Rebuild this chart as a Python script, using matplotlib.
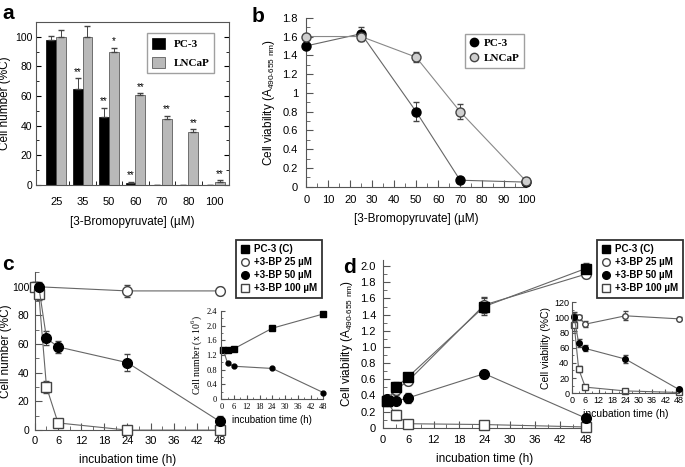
import numpy as np
import matplotlib
matplotlib.use("Agg")
import matplotlib.pyplot as plt
from matplotlib.lines import Line2D
from matplotlib.ticker import MultipleLocator

plt.rcParams['font.family'] = ['Liberation Sans', 'DejaVu Sans']
plt.rcParams['mathtext.fontset'] = 'custom'
plt.rcParams['mathtext.rm'] = 'Liberation Sans'
plt.rcParams['xtick.direction'] = 'in'
plt.rcParams['ytick.direction'] = 'in'

# panel a: cell number vs 3-BP dose
conc_labels = ['25', '35', '50', '60', '70', '80', '100']
pc3_num = [98, 65, 46, 1, 0, 0, 0]
pc3_num_err = [2.5, 7, 6, 1, 0, 0, 0]
lncap_num = [100, 100, 90, 61, 44.5, 35.5, 2]
lncap_num_err = [4.5, 7, 2.5, 1, 2, 2, 1]
pc3_stars = ['', '**', '**', '**', '', '', '']
lncap_stars = ['', '', '*', '**', '**', '**', '**']

# panel b: viability vs dose
conc_b = [0, 25, 50, 70, 100]
pc3_via = [1.5, 1.63, 0.8, 0.07, 0.05]
pc3_via_err = [0.02, 0.07, 0.1, 0.03, 0.03]
lncap_via = [1.6, 1.6, 1.38, 0.8, 0.06]
lncap_via_err = [0.02, 0.05, 0.05, 0.08, 0.03]

# panel c: cell number (%C) vs time
t25_c = [0, 24, 48]
bp25_c = [100, 97, 97]
bp25_c_err = [3, 4, 3]
t50_c = [1, 3, 6, 24, 48]
bp50_c = [100, 64, 58, 47, 6]
bp50_c_err = [3, 5, 4, 6, 4]
t100_c = [0, 1, 3, 6, 24, 48]
bp100_c = [100, 95, 30, 5, 0, 0]
bp100_c_err = [3, 4, 4, 2, 1, 1]
# inset c: absolute cell number (x10^6)
t_in_c = [1, 3, 6, 24, 48]
ctrl_in_c = [1.33, 1.33, 1.37, 1.93, 2.32]
bp50_in_c = [1.33, 0.97, 0.89, 0.83, 0.17]

# panel d: viability (A490-655) vs time
t_d = [1, 3, 6, 24, 48]
ctrl_d = [0.33, 0.5, 0.63, 1.5, 1.97]
ctrl_d_err = [0.05, 0.07, 0.05, 0.1, 0.07]
bp25_d = [0.33, 0.47, 0.58, 1.52, 1.9]
bp25_d_err = [0.05, 0.06, 0.05, 0.1, 0.05]
bp50_d = [0.35, 0.33, 0.37, 0.67, 0.12]
bp50_d_err = [0.05, 0.04, 0.06, 0.05, 0.03]
bp100_d = [0.33, 0.16, 0.05, 0.04, 0.01]
bp100_d_err = [0.05, 0.06, 0.02, 0.02, 0.01]
# inset d: viability (%C)
bp25_in_d = [102, 100, 91, 102, 98]
bp25_in_d_err = [5, 3, 4, 6, 2]
bp50_in_d = [100, 66, 59, 45, 5]
bp50_in_d_err = [5, 5, 4, 5, 2]
bp100_in_d = [90, 32, 8, 3, 1]
bp100_in_d_err = [8, 4, 2, 1, 1]

legend_labels = ['PC-3 (C)', '+3-BP 25 \u00b5M', '+3-BP 50 \u00b5M', '+3-BP 100 \u00b5M']

grey_bar = '#b9b9b9'
line_c = '#666666'

fig = plt.figure(figsize=(6.85, 4.67), dpi=100)


def spines_lb(ax):
    ax.spines['top'].set_visible(False)
    ax.spines['right'].set_visible(False)
    for s in ['left', 'bottom']:
        ax.spines[s].set_color('#555555')
        ax.spines[s].set_linewidth(0.8)
    ax.tick_params(which='both', colors='#555555', labelcolor='black')


def time_legend():
    # proxy markers, same for c and d
    hs = [Line2D([], [], ls='none', marker='s', ms=5.5, mfc='black', mec='black'),
          Line2D([], [], ls='none', marker='o', ms=5.5, mfc='white', mec='#444444'),
          Line2D([], [], ls='none', marker='o', ms=5.5, mfc='black', mec='black'),
          Line2D([], [], ls='none', marker='s', ms=5.5, mfc='white', mec='#444444')]
    return hs


# ---- a ----
ax = fig.add_axes([0.053, 0.604, 0.281, 0.349])
x = np.arange(len(conc_labels))
w = 0.37
ax.bar(x - w / 2, pc3_num, w, color='black', edgecolor='black', lw=0.5, label='PC-3')
ax.bar(x + w / 2, lncap_num, w, color=grey_bar, edgecolor='#444444', lw=0.5, label='LNCaP')
ax.errorbar(x - w / 2, pc3_num, yerr=[np.zeros(7), pc3_num_err], fmt='none',
            ecolor='#444444', elinewidth=0.7, capsize=2.5)
ax.errorbar(x + w / 2, lncap_num, yerr=[np.zeros(7), lncap_num_err], fmt='none',
            ecolor='#444444', elinewidth=0.7, capsize=2.5)
for i in range(len(x)):
    if pc3_stars[i]:
        ax.text(x[i] - w / 2, pc3_num[i] + pc3_num_err[i] + 1, pc3_stars[i],
                ha='center', va='bottom', fontsize=7)
    if lncap_stars[i]:
        ax.text(x[i] + w / 2, lncap_num[i] + lncap_num_err[i] + 1, lncap_stars[i],
                ha='center', va='bottom', fontsize=7)
ax.set_xlim(-0.75, 6.53)
ax.set_ylim(0, 110)
ax.set_xticks(x)
ax.set_xticklabels(conc_labels)
ax.set_xticks(x[:-1] + 0.5, minor=True)
ax.yaxis.set_major_locator(MultipleLocator(20))
ax.yaxis.set_minor_locator(MultipleLocator(10))
ax.tick_params(which='both', right=True, labelsize=8, pad=3)
ax.tick_params(axis='y', labelsize=7.5)
ax.tick_params(axis='x', length=0, pad=9)
ax.tick_params(axis='x', which='minor', length=3)
for s in ax.spines.values():
    s.set_color('#555555')
    s.set_linewidth(0.8)
ax.set_ylabel('Cell number (%C)', fontsize=8.5)
ax.yaxis.set_label_coords(-0.13, 0.5)
ax.set_xlabel('[3-Bromopyruvate] (\u00b5M)', fontsize=8.5, labelpad=6)
leg = ax.legend(loc='upper left', bbox_to_anchor=(0.215, 0.929), bbox_transform=fig.transFigure,
                borderaxespad=0, fancybox=False, edgecolor='#888888', handlelength=1.2,
                handleheight=1.2, labelspacing=0.7, prop={'family': 'Liberation Serif',
                                                          'weight': 'bold', 'size': 8})
leg.get_frame().set_linewidth(1.0)

# ---- b ----
ax = fig.add_axes([0.447, 0.600, 0.321, 0.362])
ax.errorbar(conc_b, pc3_via, yerr=pc3_via_err, color=line_c, lw=0.8, marker='o', ms=6.5,
            mfc='black', mec='black', ecolor='#444444', elinewidth=0.7, capsize=2.5,
            clip_on=False, zorder=3)
ax.errorbar(conc_b, lncap_via, yerr=lncap_via_err, color='#888888', lw=0.8, marker='o', ms=6.5,
            mfc='#cfcfcf', mec='#444444', ecolor='#444444', elinewidth=0.7, capsize=2.5,
            clip_on=False, zorder=3)
ax.set_xlim(0, 100)
ax.set_ylim(0, 1.8)
ax.xaxis.set_major_locator(MultipleLocator(10))
ax.xaxis.set_minor_locator(MultipleLocator(5))
ax.yaxis.set_major_locator(MultipleLocator(0.2))
ax.yaxis.set_minor_locator(MultipleLocator(0.1))
ax.yaxis.set_major_formatter(plt.FuncFormatter(lambda v, p: '%g' % round(v, 1)))
spines_lb(ax)
ax.tick_params(labelsize=8, pad=6)
ax.tick_params(which='major', length=5)
ax.tick_params(which='minor', length=3)
ax.set_ylabel(r'Cell viability (A$_\mathregular{490\text{-}655\ nm}$)', fontsize=8.5)
ax.set_xlabel('[3-Bromopyruvate] (\u00b5M)', fontsize=8.5, labelpad=6)
hb = [Line2D([], [], ls='none', marker='o', ms=6, mfc='black', mec='black'),
      Line2D([], [], ls='none', marker='o', ms=6, mfc='#cfcfcf', mec='#444444')]
leg = ax.legend(hb, ['PC-3', 'LNCaP'], loc='upper left', bbox_to_anchor=(0.679, 0.927),
                bbox_transform=fig.transFigure, borderaxespad=0, fancybox=False,
                edgecolor='#888888', handlelength=0.8, handletextpad=0.5, labelspacing=0.45,
                prop={'family': 'Liberation Serif', 'weight': 'bold', 'size': 8})
leg.get_frame().set_linewidth(1.0)

# ---- c ----
ax = fig.add_axes([0.051, 0.079, 0.270, 0.338])
kw = dict(color=line_c, lw=0.8, ms=7, ecolor='#444444', elinewidth=0.7, capsize=2.5,
          clip_on=False, zorder=3)
ax.errorbar(t25_c, bp25_c, yerr=bp25_c_err, marker='o', mfc='white', mec='#444444', **kw)
ax.errorbar(t100_c, bp100_c, yerr=bp100_c_err, marker='s', mfc='white', mec='#444444', **kw)
ax.errorbar(t50_c, bp50_c, yerr=bp50_c_err, marker='o', mfc='black', mec='black', **kw)
ax.set_xlim(0, 48)
ax.set_ylim(0, 110)
ax.xaxis.set_major_locator(MultipleLocator(6))
ax.xaxis.set_minor_locator(MultipleLocator(3))
ax.yaxis.set_major_locator(MultipleLocator(20))
ax.yaxis.set_minor_locator(MultipleLocator(10))
spines_lb(ax)
ax.tick_params(labelsize=8, pad=4)
ax.tick_params(axis='y', labelsize=7.5)
ax.tick_params(which='major', length=5)
ax.tick_params(which='minor', length=3)
ax.set_ylabel('Cell number (%C)', fontsize=8.5)
ax.yaxis.set_label_coords(-0.122, 0.5)
ax.set_xlabel('incubation time (h)', fontsize=8.5, labelpad=6)
leg = ax.legend(time_legend(), legend_labels, loc='upper left',
                bbox_to_anchor=(0.345, 0.486), bbox_transform=fig.transFigure,
                borderaxespad=0, fancybox=False, edgecolor='black', handlelength=0.8,
                handletextpad=0.6, labelspacing=0.3, borderpad=0.45,
                prop={'weight': 'bold', 'size': 7})
leg.get_frame().set_linewidth(1.3)

# inset c
ax = fig.add_axes([0.323, 0.146, 0.149, 0.188])
ax.plot(t_in_c, ctrl_in_c, color=line_c, lw=0.8, marker='s', ms=4, mfc='black', mec='black',
        clip_on=False)
ax.plot(t_in_c, bp50_in_c, color=line_c, lw=0.8, marker='o', ms=3.5, mfc='black', mec='black',
        clip_on=False)
ax.set_xlim(0, 48)
ax.set_ylim(0, 2.4)
ax.xaxis.set_major_locator(MultipleLocator(6))
ax.xaxis.set_minor_locator(MultipleLocator(3))
ax.yaxis.set_major_locator(MultipleLocator(0.4))
ax.yaxis.set_minor_locator(MultipleLocator(0.2))
ax.yaxis.set_major_formatter(plt.FuncFormatter(lambda v, p: '0' if v == 0 else '%.1f' % v))
spines_lb(ax)
ax.tick_params(labelsize=6, pad=3)
ax.tick_params(which='major', length=3)
ax.tick_params(which='minor', length=1.5)
for t in ax.get_xticklabels() + ax.get_yticklabels():
    t.set_family('Liberation Serif')
ax.set_ylabel(r'Cell number (x 10$^\mathregular{6}$)', fontsize=7, family='Liberation Serif',
              labelpad=2)
ax.set_xlabel('incubation time (h)', fontsize=7, labelpad=3)

# ---- d ----
ax = fig.add_axes([0.559, 0.084, 0.296, 0.360])
ax.errorbar(t_d, bp100_d, yerr=bp100_d_err, marker='s', mfc='white', mec='#444444', **kw)
ax.errorbar(t_d, bp50_d, yerr=bp50_d_err, marker='o', mfc='black', mec='black', **kw)
ax.errorbar(t_d, bp25_d, yerr=bp25_d_err, marker='o', mfc='white', mec='#444444', **kw)
ax.errorbar(t_d, ctrl_d, yerr=ctrl_d_err, marker='s', mfc='black', mec='black', **kw)
ax.set_xlim(0, 48)
ax.set_ylim(0, 2.08)
ax.xaxis.set_major_locator(MultipleLocator(6))
ax.xaxis.set_minor_locator(MultipleLocator(3))
ax.yaxis.set_major_locator(MultipleLocator(0.2))
ax.yaxis.set_minor_locator(MultipleLocator(0.1))
ax.yaxis.set_major_formatter(plt.FuncFormatter(lambda v, p: '0' if v == 0 else '%.1f' % v))
spines_lb(ax)
ax.tick_params(labelsize=8, pad=5)
ax.tick_params(which='major', length=5)
ax.tick_params(which='minor', length=3)
ax.set_ylabel(r'Cell viability (A$_\mathregular{490\text{-}655\ nm}$)', fontsize=8.5)
ax.set_xlabel('incubation time (h)', fontsize=8.5, labelpad=6)
leg = ax.legend(time_legend(), legend_labels, loc='upper left',
                bbox_to_anchor=(0.872, 0.486), bbox_transform=fig.transFigure,
                borderaxespad=0, fancybox=False, edgecolor='black', handlelength=0.8,
                handletextpad=0.6, labelspacing=0.3, borderpad=0.45,
                prop={'weight': 'bold', 'size': 7})
leg.get_frame().set_linewidth(1.3)

# inset d
ax = fig.add_axes([0.835, 0.158, 0.156, 0.195])
kw_in = dict(color=line_c, lw=0.8, ms=4, ecolor='#444444', elinewidth=0.6, capsize=1.8,
             clip_on=False)
ax.errorbar(t_d, bp100_in_d, yerr=bp100_in_d_err, marker='s', mfc='white', mec='#444444', **kw_in)
ax.errorbar(t_d, bp25_in_d, yerr=bp25_in_d_err, marker='o', mfc='white', mec='#444444', **kw_in)
ax.errorbar(t_d, bp50_in_d, yerr=bp50_in_d_err, marker='o', mfc='black', mec='black', **kw_in)
ax.set_xlim(0, 48)
ax.set_ylim(0, 120)
ax.xaxis.set_major_locator(MultipleLocator(6))
ax.xaxis.set_minor_locator(MultipleLocator(3))
ax.yaxis.set_major_locator(MultipleLocator(20))
ax.yaxis.set_minor_locator(MultipleLocator(10))
spines_lb(ax)
ax.tick_params(labelsize=6.5, pad=2)
ax.tick_params(which='major', length=3)
ax.tick_params(which='minor', length=1.5)
ax.set_ylabel('Cell viability (%C)', fontsize=7.5, labelpad=2)
ax.set_xlabel('incubation time (h)', fontsize=7.5, labelpad=3)

# panel letters
for lab, px, py in [('a', 2, 19), ('b', 252, 22), ('c', 2, 270), ('d', 343, 273)]:
    fig.text(px / 685, 1 - py / 467, lab, fontsize=15, fontweight='bold')

fig.savefig('out.png', dpi=100)
